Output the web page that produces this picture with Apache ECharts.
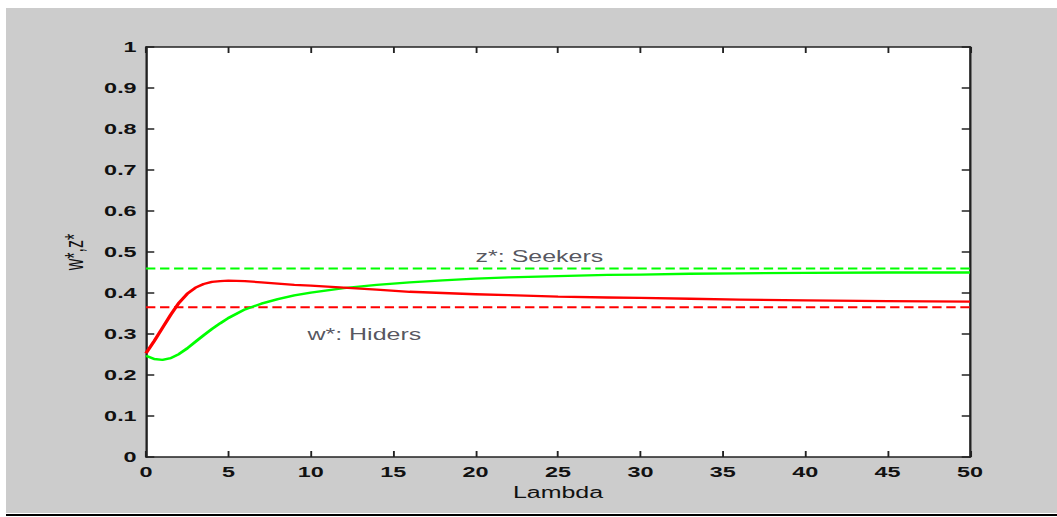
<!DOCTYPE html>
<html>
<head>
<meta charset="utf-8">
<script src="https://cdn.jsdelivr.net/npm/echarts@6/dist/echarts.min.js"></script>
<style>
  html, body { margin: 0; padding: 0; background: #ffffff; width: 1057px; height: 517px; overflow: hidden; }
  #fig { position: absolute; left: 6px; top: 8px; width: 1051px; height: 505px; background: #cccccc; }
  #rule { position: absolute; left: 6px; top: 514px; width: 1051px; height: 2px; background: #000000; }
  #chart { position: absolute; left: 0; top: 0; height: 517px; transform-origin: 0 0; }
</style>
</head>
<body>
<div id="fig"></div>
<div id="rule"></div>
<div id="chart"></div>
<script>
// ---- data ----
const lambda = [0, 0.5, 1, 1.5, 2, 2.5, 3, 3.5, 4, 4.5, 5, 6, 7, 8, 9, 10, 12, 14, 16, 18, 20, 22, 25, 28, 30, 33, 36, 40, 45, 50];
const hiders = [0.253, 0.283, 0.315, 0.347, 0.376, 0.398, 0.413, 0.422, 0.427, 0.429, 0.430, 0.429, 0.426, 0.423, 0.420, 0.418, 0.413, 0.408, 0.403, 0.400, 0.397, 0.395, 0.391, 0.389, 0.388, 0.386, 0.384, 0.382, 0.380, 0.379];
const seekers = [0.247, 0.239, 0.237, 0.241, 0.251, 0.265, 0.281, 0.297, 0.312, 0.326, 0.339, 0.360, 0.374, 0.385, 0.394, 0.401, 0.412, 0.420, 0.426, 0.431, 0.435, 0.438, 0.441, 0.444, 0.445, 0.447, 0.448, 0.449, 0.450, 0.450];
const eqLambda = [0, 50];
const hiderEq = [0.365, 0.365];
const seekerEq = [0.46, 0.46];
const annoX = [20, 9.8];
const annoY = [0.49, 0.30];
const annoText = ['z*: Seekers', 'w*: Hiders'];
const xTicks = { min: 0, max: 50, interval: 5 };
const yTicks = { min: 0, max: 1, interval: 0.1 };

// ---- layout (reference image is stretched horizontally) ----
const S = 1.56;
const W0 = 1057 / S;
const chartEl = document.getElementById('chart');
chartEl.style.width = W0 + 'px';
chartEl.style.transform = 'scaleX(' + S + ')';

const FONT = 'Liberation Sans, Arial, Helvetica, sans-serif';
const AX = '#222222';

function zip(a, b) { return a.map((v, i) => [v, b[i]]); }

const chart = echarts.init(chartEl, null, { renderer: 'svg', width: W0, height: 517 });

const baseX = {
  type: 'value', min: xTicks.min, max: xTicks.max, interval: xTicks.interval,
  splitLine: { show: false },
  axisLine: { show: true, onZero: false, lineStyle: { color: AX, width: 1.5 } },
  axisTick: { show: true, inside: true, length: 6, lineStyle: { color: AX, width: 1.2 } }
};
const baseY = {
  type: 'value', min: yTicks.min, max: yTicks.max, interval: yTicks.interval,
  splitLine: { show: false },
  axisLine: { show: true, onZero: false, lineStyle: { color: AX, width: 1.5 } },
  axisTick: { show: true, inside: true, length: 5.3, lineStyle: { color: AX, width: 1.5 } }
};

const option = {
  backgroundColor: 'transparent',
  animation: false,
  grid: {
    left: 146 / S, top: 47, width: 824 / S, bottom: 60,
    show: true, backgroundColor: '#ffffff', borderWidth: 0
  },
  xAxis: [
    Object.assign({}, baseX, {
      position: 'bottom',
      name: 'Lambda', nameLocation: 'middle', nameGap: 26,
      nameTextStyle: { fontFamily: FONT, fontSize: 16, color: '#111' },
      axisLabel: { show: true, margin: 7, fontFamily: FONT, fontSize: 15, fontWeight: 'bold', color: '#111',
        formatter: v => String(v) }
    }),
    Object.assign({}, baseX, { position: 'top', axisLabel: { show: false } })
  ],
  yAxis: [
    Object.assign({}, baseY, {
      position: 'left',
      name: 'w*,z*', nameLocation: 'middle', nameGap: 38,
      nameTextStyle: { fontFamily: FONT, fontSize: 16, color: '#111' },
      axisLabel: { show: true, margin: 6, fontFamily: FONT, fontSize: 15, fontWeight: 'bold', color: '#111',
        formatter: v => String(Math.round(v * 10) / 10) }
    }),
    Object.assign({}, baseY, { position: 'right', axisLabel: { show: false } })
  ],
  series: [
    {
      name: 'z* eq', type: 'line', data: zip(eqLambda, seekerEq), showSymbol: false, silent: true,
      lineStyle: { color: '#00ff00', width: 2, type: [6, 3] }
    },
    {
      name: 'w* eq', type: 'line', data: zip(eqLambda, hiderEq), showSymbol: false, silent: true,
      lineStyle: { color: '#ff0000', width: 2, type: [6, 3] }
    },
    {
      name: 'z*', type: 'line', data: zip(lambda, seekers), showSymbol: false, smooth: false, silent: true,
      lineStyle: { color: '#00ff00', width: 2.3, join: 'round' }
    },
    {
      name: 'w*', type: 'line', data: zip(lambda, hiders), showSymbol: false, smooth: false, silent: true,
      lineStyle: { color: '#ff0000', width: 2.3, join: 'round' }
    },
    {
      name: 'labels', type: 'scatter', symbolSize: 0, silent: true,
      data: annoText.map((t, i) => ({ name: t, value: [annoX[i], annoY[i]] })),
      label: { show: true, position: 'right', distance: 0, formatter: '{b}',
        fontFamily: FONT, fontSize: 16, color: '#2a2a35' }
    }
  ]
};
chart.setOption(option);
</script>
</body>
</html>
